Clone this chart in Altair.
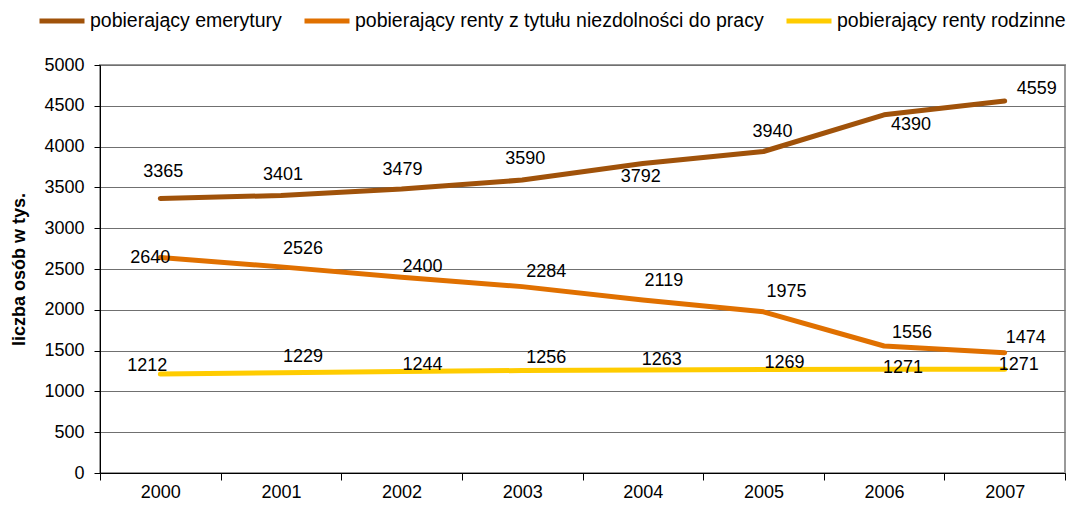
import altair as alt
import pandas as pd

years = ["2000", "2001", "2002", "2003", "2004", "2005", "2006", "2007"]
series_names = [
    "pobierający emerytury",
    "pobierający renty z tytułu niezdolności do pracy",
    "pobierający renty rodzinne",
]
emerytury = [3365, 3401, 3479, 3590, 3792, 3940, 4390, 4559]
renty = [2640, 2526, 2400, 2284, 2119, 1975, 1556, 1474]
rodzinne = [1212, 1229, 1244, 1256, 1263, 1269, 1271, 1271]
colors = ["#A0520A", "#E07000", "#FFCC00"]

# label offsets in pixels (placement of data labels, as in the reference)
label_dx = {
    0: [3, 2, 1, 3, -2, 9, 27, 32],
    1: [-10, 22, 21, 24, 21, 23, 28, 21],
    2: [-13, 22, 21, 24, 19, 21, 19, 14],
}
label_dy = {
    0: [-26, -20, -19, -21, 13, -19, 10, -12],
    1: [0, -18, -10, -15, -19, -20, -13, -15],
    2: [-8, -16, -6, -13, -10, -6, -1, -4],
}

W, H = 965, 408
YMAX = 5000
HALF_BAND = W / len(years) / 2

rows = []
for si, vals in enumerate([emerytury, renty, rodzinne]):
    for i, y in enumerate(years):
        rows.append({
            "rok": y,
            "seria": series_names[si],
            "wartosc": vals[i],
            "order": si,
            "dx": label_dx[si][i],
            "dy": label_dy[si][i],
        })
df = pd.DataFrame(rows)

FONT = "Liberation Sans"

x_enc = alt.X(
    "rok:O",
    scale=alt.Scale(type="band", paddingInner=0, paddingOuter=0),
    bandPosition=0.5,
    axis=alt.Axis(
        title=None,
        labelAngle=0,
        tickBand="extent",
        grid=False,
        tickSize=7,
        tickColor="#000000",
        domainColor="#000000",
        labelPadding=3,
        labelFontSize=18,
        labelColor="#000000",
    ),
)
y_enc = alt.Y(
    "wartosc:Q",
    scale=alt.Scale(domain=[0, YMAX], nice=False),
    axis=alt.Axis(
        values=list(range(0, 5001, 500)),
        format="d",
        title="liczba osób w tys.",
        titleFontSize=18,
        titleFontWeight="bold",
        titleColor="#000000",
        titleX=-76,
        titleY=204,
        titleAngle=270,
        titleAlign="center",
        titleBaseline="alphabetic",
        labelFontSize=18,
        labelColor="#000000",
        labelPadding=10,
        tickSize=6,
        tickColor="#000000",
        domainColor="#000000",
        gridColor="#707070",
        gridWidth=1,
    ),
)
color_enc = alt.Color(
    "seria:N",
    scale=alt.Scale(domain=series_names, range=colors),
    legend=alt.Legend(
        title=None,
        orient="none",
        legendX=-63,
        legendY=-69,
        direction="horizontal",
        columns=3,
        symbolType="stroke",
        symbolSize=2025,
        symbolStrokeWidth=5,
        labelFontSize=19.5,
        labelColor="#000000",
        labelOffset=3,
        labelLimit=600,
        columnPadding=12,
    ),
)

lines = alt.Chart(df).mark_line(strokeWidth=5, strokeCap="round", strokeJoin="round").encode(
    x=x_enc,
    y=y_enc,
    color=color_enc,
    order="order:Q",
    detail="seria:N",
)

labels = alt.Chart(df).transform_calculate(
    xo=f"datum.dx + {HALF_BAND}",
    ly=f"datum.wartosc - datum.dy * {YMAX / H}",
).mark_text(fontSize=18, color="#000000", align="center", baseline="middle", font=FONT).encode(
    x=alt.X("rok:O"),
    y=alt.Y("ly:Q"),
    xOffset=alt.XOffset("xo:Q", scale=None),
    text=alt.Text("wartosc:Q", format="d"),
)

chart = alt.layer(lines, labels).properties(
    width=W,
    height=H,
    autosize=alt.AutoSizeParams(type="none"),
    padding={"left": 92, "top": 57, "right": 2, "bottom": 27},
).configure(
    font=FONT,
).configure_view(
    stroke="#999999",
    strokeWidth=2,
)

chart.save("out.html", embed_options={"renderer": "svg", "actions": False})
